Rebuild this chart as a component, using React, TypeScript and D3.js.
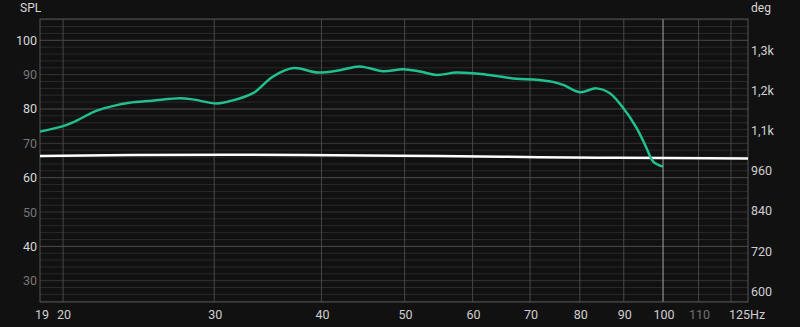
import React, { useEffect } from "react";
import * as d3 from "d3";

const W = 800;
const H = 327;

// SPL response (Hz, dB)
const splFreq = [18.8, 20, 20.5, 21.9, 22.9, 23.9, 25.4, 27.4, 28.3, 30.2, 31.3, 33.3, 35.1, 37.1, 39.6, 42.0, 44.3, 47.2, 49.8, 52.1, 54.5, 57.5, 62.3, 67.5, 70.6, 74.4, 76.5, 80.0, 83.6, 86.7, 89.6, 93.1, 95.6, 97.4, 100];
const splValues = [73.4, 75.0, 76.0, 79.5, 80.9, 81.8, 82.4, 83.1, 82.8, 81.6, 82.3, 84.6, 89.4, 91.9, 90.6, 91.3, 92.4, 91.0, 91.6, 90.9, 89.9, 90.6, 90.0, 88.8, 88.6, 87.9, 87.0, 84.9, 86.0, 84.6, 80.7, 74.6, 68.8, 64.7, 63.2];

// Phase (Hz, deg)
const phaseFreq = [18.8, 24, 31, 38, 49, 65, 84, 100, 125.6];
const phaseValues = [1004, 1007, 1008, 1007, 1005, 1002, 999, 998, 997];

const xTicks = [19, 20, 30, 40, 50, 60, 70, 80, 90, 100, 110];
const xGridTicks = [20, 30, 40, 50, 60, 70, 80, 90, 110, 120];
const markerFreq = 100;
const splTicks = [30, 40, 50, 60, 70, 80, 90, 100];
const degTicks = [600, 720, 840, 960, 1080, 1200, 1320];
const degTickLabels = ["600", "720", "840", "960", "1,1k", "1,2k", "1,3k"];

const FONT = "Roboto, 'Noto Sans', sans-serif";

export default function App() {
  useEffect(() => {
    document.body.style.margin = "0";
    document.body.style.background = "#121112";
  }, []);

  const left = 40, right = 748, top = 19, bottom = 302;
  const x = d3.scaleLog().domain([18.8, 125.6]).range([left, right]);
  const y = d3.scaleLinear().domain([23.8, 106.2]).range([bottom, top]);
  const yDeg = d3.scaleLinear().domain([568, 1413.5]).range([bottom, top]);

  const splLine = d3
    .line<number>()
    .x((_, i) => x(splFreq[i]))
    .y((d) => y(d))
    .curve(d3.curveCatmullRom.alpha(0.5));
  const phaseLine = d3
    .line<number>()
    .x((_, i) => x(phaseFreq[i]))
    .y((d) => yDeg(d))
    .curve(d3.curveMonotoneX);

  const minorGrid = d3.range(24, 107, 2);

  return (
    <svg width={W} height={H} style={{ display: "block", background: "#121112" }}>
      <rect x={0} y={0} width={W} height={H} fill="#121112" />
      {/* horizontal grid */}
      {minorGrid.map((v) => (
        <line
          key={"h" + v}
          x1={left}
          x2={right}
          y1={y(v)}
          y2={y(v)}
          stroke={v % 20 === 0 ? "#4c4c4c" : v % 10 === 0 ? "#343434" : "#2a2a2a"}
          strokeWidth={1}
        />
      ))}
      {/* vertical grid */}
      {xGridTicks.map((f) => (
        <line key={"v" + f} x1={x(f)} x2={x(f)} y1={top} y2={bottom} stroke="#474747" strokeWidth={1} />
      ))}
      <line x1={x(markerFreq)} x2={x(markerFreq)} y1={top} y2={bottom} stroke="#a8a8a8" strokeWidth={1} />
      {/* frame */}
      <rect x={left} y={top} width={right - left} height={bottom - top} fill="none" stroke="#555" strokeWidth={1} />

      {/* curves */}
      <path d={phaseLine(phaseValues) || ""} fill="none" stroke="#ffffff" strokeWidth={2.5} />
      <path d={splLine(splValues) || ""} fill="none" stroke="#20c08f" strokeWidth={2.5} strokeLinejoin="round" />

      {/* axis titles */}
      <text x={20} y={12} fill="#d8d8d8" fontSize={12} fontFamily={FONT}>SPL</text>
      <text x={751} y={12} fill="#d8d8d8" fontSize={12} fontFamily={FONT}>deg</text>

      {/* left labels */}
      {splTicks.map((v) => (
        <text
          key={"yl" + v}
          x={37}
          y={y(v) + 4.5}
          textAnchor="end"
          fill={v % 20 === 0 ? "#d8d8d8" : "#767676"}
          fontSize={12.5}
          fontFamily={FONT}
        >
          {v}
        </text>
      ))}
      {/* right labels */}
      {degTicks.map((v, i) => (
        <text key={"yr" + v} x={751} y={yDeg(v) + 4.5} fill="#cfcfcf" fontSize={12.5} fontFamily={FONT}>
          {degTickLabels[i]}
        </text>
      ))}
      {/* x labels */}
      {xTicks.map((f) => (
        <text
          key={"xl" + f}
          x={f === 19 ? left + 2 : x(f) + 1}
          y={319}
          textAnchor="middle"
          fill={f === 110 ? "#707070" : "#cfcfcf"}
          fontSize={12.5}
          fontFamily={FONT}
        >
          {f}
        </text>
      ))}
      <text x={750} y={319} textAnchor="end" fill="#cfcfcf" fontSize={12.5} fontFamily={FONT}>125</text>
      <text x={750} y={319} fill="#cfcfcf" fontSize={12.5} fontFamily={FONT}>Hz</text>
    </svg>
  );
}
